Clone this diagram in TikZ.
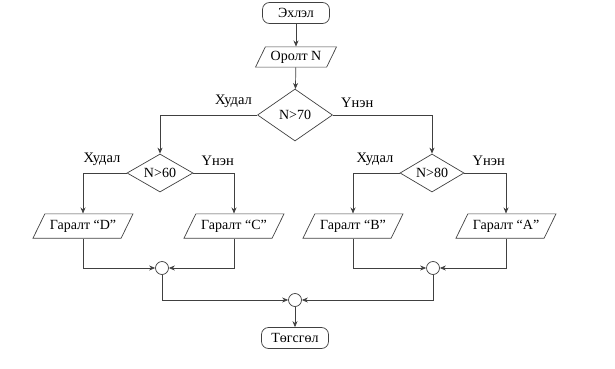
\documentclass[tikz,border=0pt]{standalone}
\usepackage{fontspec}
\setmainfont{Liberation Serif}
\usetikzlibrary{positioning,arrows.meta,shapes.geometric}

\begin{document}
\begin{tikzpicture}[x=1pt,y=-1pt,line width=0.7pt,
  every node/.style={text=black},
  terminal/.style={draw=black!75, rounded corners=7pt, minimum width=67pt, minimum height=21pt, inner sep=0pt, font=\fontsize{14}{16}\selectfont},
  io/.style={draw=black!75, trapezium, trapezium left angle=64, trapezium right angle=116, trapezium stretches body, inner xsep=0pt, inner ysep=6pt, font=\fontsize{14}{16}\selectfont},
  decision/.style={draw=black!75, diamond, aspect=1.7, inner sep=0pt, font=\fontsize{14}{16}\selectfont},
  joint/.style={draw=black!75, circle, minimum size=13pt, inner sep=0pt},
  flow/.style={draw=black!75, -{Stealth[length=6pt,width=5pt]}},
  branch/.style={font=\fontsize{14.5}{16}\selectfont, inner sep=0pt}
]
  \useasboundingbox (0,0) rectangle (615,369);

  % main column
  \node[terminal] (start) at (296,13) {Эхлэл};
  \node[io, minimum width=81pt, inner ysep=4pt] (read) at (296,57) {Оролт N};
  \node[decision, minimum width=75pt, minimum height=52pt, aspect=1.45] (c70) at (295,115) {N>70};

  % left branch
  \node[decision, minimum width=66pt, minimum height=38pt] (c60) at (160,173) {N>60};
  \node[io, minimum width=100pt] (outD) at (83,226) {Гаралт “D”};
  \node[io, minimum width=100pt] (outC) at (234,226) {Гаралт “C”};
  \node[joint] (j1) at (162,268) {};

  % right branch
  \node[decision, minimum width=64pt, minimum height=38pt] (c80) at (432,173) {N>80};
  \node[io, minimum width=100pt] (outB) at (353,226) {Гаралт “B”};
  \node[io, minimum width=100pt] (outA) at (506,226) {Гаралт “A”};
  \node[joint] (j3) at (433,268) {};

  % end
  \node[joint] (j2) at (295,300) {};
  \node[terminal] (stop) at (295,338) {Төгсгөл};

  % branch labels
  \node[branch, anchor=south east] at ([xshift=-5pt,yshift=7pt]c70.west) {Худал};
  \node[branch, anchor=south west] at ([xshift=8pt,yshift=7pt]c70.east) {Үнэн};
  \node[branch, anchor=south east] at ([xshift=-6pt,yshift=7pt]c60.west) {Худал};
  \node[branch, anchor=south west] at ([xshift=8pt,yshift=7pt]c60.east) {Үнэн};
  \node[branch, anchor=south east] at ([xshift=-6pt,yshift=7pt]c80.west) {Худал};
  \node[branch, anchor=south west] at ([xshift=8pt,yshift=7pt]c80.east) {Үнэн};

  % connectors
  \draw[flow] (start) -- (read);
  \draw[flow] (read) -- (c70);
  \draw[flow] (c70.west) -| (c60.north);
  \draw[flow] (c70.east) -| (c80.north);
  \draw[flow] (c60.west) -| (outD.north);
  \draw[flow] (c60.east) -| (outC.north);
  \draw[flow] (c80.west) -| (outB.north);
  \draw[flow] (c80.east) -| (outA.north);
  \draw[flow] (outD.south) |- (j1);
  \draw[flow] (outC.south) |- (j1);
  \draw[flow] (outB.south) |- (j3);
  \draw[flow] (outA.south) |- (j3);
  \draw[flow] (j1.south) |- (j2);
  \draw[flow] (j3.south) |- (j2);
  \draw[flow] (j2) -- (stop);
\end{tikzpicture}
\end{document}
